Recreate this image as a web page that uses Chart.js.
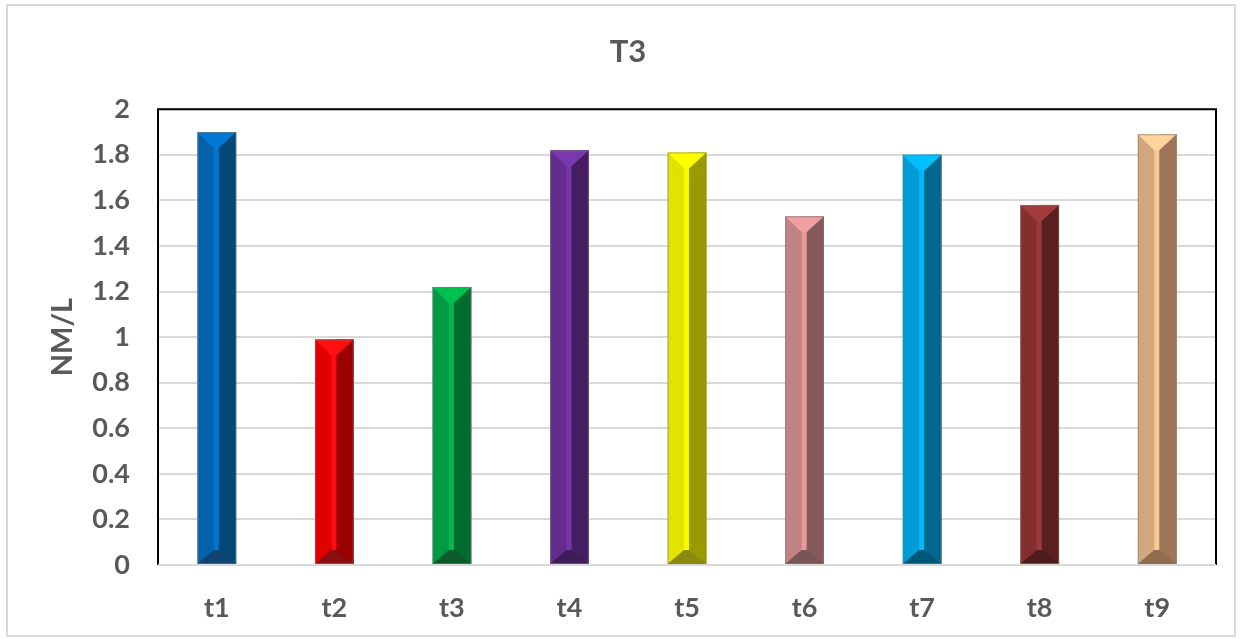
<!DOCTYPE html>
<html>
<head>
<meta charset="utf-8">
<script src="https://cdn.jsdelivr.net/npm/chart.js@4"></script>
<style>
html,body{margin:0;padding:0;background:#fff;}
#wrap{position:relative;width:1241px;height:639px;}
</style>
</head>
<body>
<div id="wrap"><canvas id="c" width="1241" height="639"></canvas></div>
<script>
const categories = ["t1","t2","t3","t4","t5","t6","t7","t8","t9"];
const values = [1.90, 0.99, 1.22, 1.82, 1.81, 1.53, 1.80, 1.58, 1.89];
const yTicks = [0, 0.2, 0.4, 0.6, 0.8, 1, 1.2, 1.4, 1.6, 1.8, 2];
const mainColors   = ["#0563AE","#E00000","#009A44","#652C8F","#E2E200","#C08282","#009CD6","#842E2E","#D4A67C"];
const darkColors   = ["#044676","#9C0000","#006C2E","#451D62","#999900","#875A5A","#006890","#5A1F1F","#9C7656"];
const lightColors  = ["#0078D4","#FF1010","#00C050","#7A38AE","#FFFF00","#EE9F9F","#00C0FF","#A23C3C","#FFD29E"];
const bottomColors = ["#0D4470","#8B0F0F","#0B5A2C","#3E1E58","#8A8A10","#7A5555","#005878","#4E1C1C","#8E6C50"];

const TEXT = "#595959";
const FONT = "Lato, 'Open Sans', sans-serif";

const bevelPlugin = {
  id: 'bevel',
  afterDatasetsDraw(chart) {
    const ctx = chart.ctx;
    const meta = chart.getDatasetMeta(0);
    meta.data.forEach((bar, i) => {
      const p = bar.getProps(['x','y','base','width'], true);
      const l = p.x - p.width/2, r = p.x + p.width/2;
      const top = p.y, base = p.base;
      const sL = p.x - 3, sR = p.x + 2;
      const d = Math.min(16, (base - top)/2);
      ctx.save();
      ctx.fillStyle = darkColors[i];
      ctx.fillRect(sR, top, r - sR, base - top);
      ctx.fillStyle = lightColors[i];
      ctx.globalAlpha = 0.8;
      ctx.fillRect(sL, top, sR - sL, base - top);
      ctx.globalAlpha = 1;
      ctx.fillStyle = lightColors[i];
      ctx.beginPath();
      ctx.moveTo(l, top); ctx.lineTo(r, top); ctx.lineTo(sR, top + d); ctx.lineTo(sL, top + d); ctx.closePath();
      ctx.fill();
      ctx.fillStyle = bottomColors[i];
      ctx.beginPath();
      ctx.moveTo(l, base); ctx.lineTo(r, base); ctx.lineTo(sR, base - d + 2); ctx.lineTo(sL, base - d + 2); ctx.closePath();
      ctx.fill();
      ctx.strokeStyle = "rgba(120,120,120,0.6)";
      ctx.lineWidth = 1;
      ctx.strokeRect(l + 0.5, top + 0.5, p.width - 1, base - top - 1);
      ctx.restore();
    });
  },
  afterDraw(chart) {
    const ctx = chart.ctx;
    const a = chart.chartArea;
    ctx.save();
    ctx.strokeStyle = "#000";
    ctx.lineWidth = 2;
    ctx.beginPath();
    ctx.moveTo(a.left, a.bottom); ctx.lineTo(a.left, a.top); ctx.lineTo(a.right, a.top); ctx.lineTo(a.right, a.bottom);
    ctx.stroke();
    ctx.strokeStyle = "#D9D9D9";
    ctx.lineWidth = 2;
    ctx.beginPath();
    ctx.moveTo(a.left, a.bottom); ctx.lineTo(a.right, a.bottom);
    ctx.stroke();
    ctx.strokeStyle = "#D9D9D9";
    ctx.lineWidth = 2;
    ctx.strokeRect(7, 5, 1228, 631);
    ctx.restore();
  }
};

new Chart(document.getElementById('c'), {
  type: 'bar',
  data: {
    labels: categories,
    datasets: [{
      data: values,
      backgroundColor: mainColors,
      borderWidth: 0,
      barPercentage: 0.33,
      categoryPercentage: 1.0
    }]
  },
  options: {
    responsive: false,
    animation: false,
    layout: { padding: { left: 40, right: 25, top: 0, bottom: 0 } },
    plugins: {
      legend: { display: false },
      tooltip: { enabled: false },
      title: {
        display: true,
        text: "T3",
        color: TEXT,
        font: { family: FONT, size: 31, weight: 'bold' },
        padding: { top: 33, bottom: 39 }
      }
    },
    scales: {
      x: {
        grid: { display: false, drawTicks: false },
        border: { display: false },
        ticks: { color: TEXT, font: { family: FONT, size: 27, weight: 'bold' }, padding: 27 },
        afterFit(scale) { scale.height = 74; }
      },
      y: {
        min: 0, max: 2,
        afterBuildTicks(scale) { scale.ticks = yTicks.map(v => ({ value: v })); },
        grid: { color: "#D9D9D9", lineWidth: 2, drawTicks: false },
        border: { display: false },
        ticks: {
          color: TEXT,
          font: { family: FONT, size: 27, weight: 'bold' },
          padding: 28,
          callback: (v) => String(v)
        },
        title: {
          display: true,
          text: "NM/L",
          color: TEXT,
          font: { family: FONT, size: 29, weight: 'bold' },
          padding: { top: 5, bottom: 0 }
        },
        afterFit(scale) { scale.width = 118; }
      }
    }
  },
  plugins: [bevelPlugin]
});
</script>
</body>
</html>
